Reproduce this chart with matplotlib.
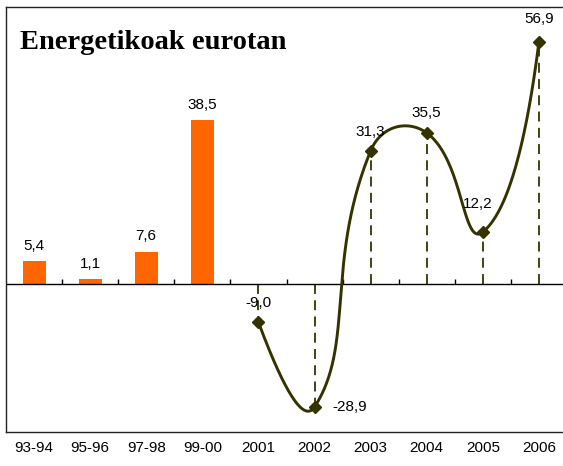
import numpy as np
import matplotlib
matplotlib.use("Agg")
import matplotlib.pyplot as plt

categories = ["93-94", "95-96", "97-98", "99-00", "2001", "2002", "2003", "2004", "2005", "2006"]
bar_values = [5.4, 1.1, 7.6, 38.5]
line_values = [-9.0, -28.9, 31.3, 35.5, 12.2, 56.9]
title = "Energetikoak eurotan"

W, H = 563, 466
FS = 11
fig = plt.figure(figsize=(W / 100, H / 100), dpi=100)
ax = fig.add_axes([6 / W, (H - 432) / H, 561 / W, 425 / H])
ax.set_xlim(-0.5, len(categories) - 0.5)
ax.set_ylim(-34.8, 65.1)

bar_x = np.arange(len(bar_values))
line_x = np.arange(len(bar_values), len(categories))

def fmt(v):
    return f"{v:.1f}".replace(".", ",")

# bars
ax.bar(bar_x, bar_values, width=0.41, color="#FF6600", zorder=3)
for x, v in zip(bar_x, bar_values):
    ax.annotate(fmt(v), (x, v), xytext=(0, 6), textcoords="offset points",
                ha="center", va="bottom", fontsize=FS, family="Liberation Sans", zorder=6)

# zero line and boundary ticks
ax.axhline(0, color="black", lw=1.0, zorder=4)
bounds = np.arange(len(categories)) + 0.5
ax.vlines(bounds, 0, 1.2, color="black", lw=1.0, zorder=4)

olive = "#333300"
# drop lines
ax.vlines(line_x, 0, line_values, colors=olive, lw=1.3, linestyles=(0, (5.5, 3.5)), zorder=2)

# smooth curve (Excel-like bezier in display space)
fig.canvas.draw()
P = ax.transData.transform(np.column_stack([line_x, line_values]))
n = len(P)
t_ = 0.5
tt = np.linspace(0, 1, 100)[:, None]
curve = []
for i in range(n - 1):
    p1, p2 = P[i], P[i + 1]
    d12 = np.linalg.norm(p2 - p1)
    b1 = None
    b2 = None
    if i > 0:
        p0 = P[i - 1]
        d01 = np.linalg.norm(p1 - p0)
        b1 = p1 + (p2 - p0) * t_ * d12 / (d01 + d12)
    if i < n - 2:
        p3 = P[i + 2]
        d23 = np.linalg.norm(p3 - p2)
        b2 = p2 - (p3 - p1) * t_ * d12 / (d12 + d23)
    if b1 is None:
        c = b2
        b1 = p1 + 2 / 3 * (c - p1)
        b2 = p2 + 2 / 3 * (c - p2)
    elif b2 is None:
        c = b1
        b1 = p1 + 2 / 3 * (c - p1)
        b2 = p2 + 2 / 3 * (c - p2)
    seg = (1 - tt) ** 3 * p1 + 3 * (1 - tt) ** 2 * tt * b1 + 3 * (1 - tt) * tt ** 2 * b2 + tt ** 3 * p2
    curve.append(seg)
curve = ax.transData.inverted().transform(np.vstack(curve))
ax.plot(curve[:, 0], curve[:, 1], color=olive, lw=2.1, zorder=5, solid_capstyle="round")
ax.plot(line_x, line_values, ls="none", marker="D", ms=6.5, color=olive, zorder=6)

offsets = [(0, 8.5), (12.5, 0), (0, 8.5), (0, 9.5), (-4, 15.5), (0, 11.5)]
for x, v, off in zip(line_x, line_values, offsets):
    ha = "left" if off[0] > 10 else "center"
    va = "center" if off[1] == 0 else "bottom"
    ax.annotate(fmt(v), (x, v), xytext=off, textcoords="offset points",
                ha=ha, va=va, fontsize=FS, family="Liberation Sans", zorder=7)

ax.set_xticks(np.arange(len(categories)))
ax.set_xticklabels(categories, fontsize=FS, family="Liberation Sans")
ax.tick_params(axis="x", length=0, pad=6.5)
ax.set_yticks([])
for s in ax.spines.values():
    s.set_linewidth(1.0)
    s.set_color("#222222")

ax.text(14 / 561, 1 - 42 / 425, title, transform=ax.transAxes, fontsize=20.5,
        family="Liberation Serif", fontweight="bold", ha="left", va="baseline")

fig.savefig("out.png", dpi=100)
